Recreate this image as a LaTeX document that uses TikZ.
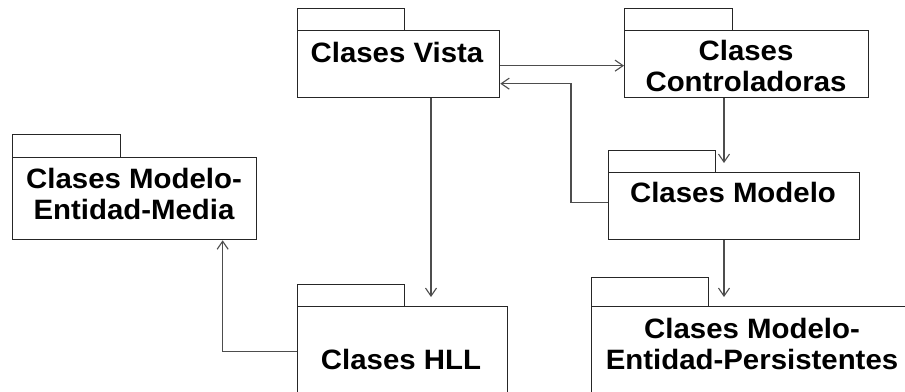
\documentclass[tikz,border=0pt]{standalone}
\usepackage{fontspec}
\setmainfont[FakeStretch=1.05]{Liberation Sans}
\usetikzlibrary{arrows.meta,calc}
\definecolor{boxcol}{HTML}{262626}
\definecolor{conncol}{HTML}{4D4D4D}
\begin{document}
\begin{tikzpicture}[x=1pt,y=-1pt,
  pkg/.style={draw=boxcol, line width=1.3pt, rectangle, inner sep=0pt, anchor=north west},
  lbl/.style={font=\fontsize{28}{31}\selectfont\bfseries, align=center, inner sep=0pt, anchor=north, text=black},
  conn/.style={draw=conncol, line width=1.1pt, -{Straight Barb[length=8pt,width=11pt]}}]
\useasboundingbox (0,0) rectangle (905,391);
\clip (0,0) rectangle (905,391);
\fill[white] (0,0) rectangle (905,391);

% package bodies and their tabs
\node[pkg, minimum width=202, minimum height=67] (vista) at (297,30) {};
\node[pkg, minimum width=107, minimum height=22] (vista-tab) at (297,8) {};
\node[pkg, minimum width=244, minimum height=67] (ctrl) at (624,30) {};
\node[pkg, minimum width=108, minimum height=22] (ctrl-tab) at (624,8) {};
\node[pkg, minimum width=251, minimum height=67] (modelo) at (608,172) {};
\node[pkg, minimum width=107, minimum height=22] (modelo-tab) at (608,150) {};
\node[pkg, minimum width=244, minimum height=82] (media) at (12,157) {};
\node[pkg, minimum width=108, minimum height=23] (media-tab) at (12,134) {};
\node[pkg, minimum width=210, minimum height=100] (hll) at (297,306) {};
\node[pkg, minimum width=107, minimum height=22] (hll-tab) at (297,284) {};
\node[pkg, minimum width=330, minimum height=100] (persist) at (591,306) {};
\node[pkg, minimum width=117, minimum height=29] (persist-tab) at (591,277) {};

% package names
\node[lbl] (vista-t) at (397,42) {Clases Vista};
\node[lbl] (ctrl-t) at (746,40) {Clases\\Controladoras};
\node[lbl] (modelo-t) at (733,182) {Clases Modelo};
\node[lbl] (media-t) at (134,168) {Clases Modelo-\\Entidad-Media};
\node[lbl] (hll-t) at (401,349) {Clases HLL};
\node[lbl] (persist-t) at (752,318) {Clases Modelo-\\Entidad-Persistentes};

% dependency columns
\coordinate (colR) at (724,0);
\coordinate (colM) at (431,0);

% dependencies
\draw[conn] ([yshift=-1.5pt]vista.east) -- ([yshift=-1.5pt]ctrl.west);
\draw[conn] ([yshift=3.5pt]modelo.west) -- ++(-37,0) |- ([yshift=-19.5pt]vista.east);
\draw[conn] (ctrl.south -| colR) -- ($(modelo.north -| colR)+(0,-9)$);
\draw[conn] (modelo.south -| colR) -- ($(persist.north -| colR)+(0,-9)$);
\draw[conn] (vista.south -| colM) -- ($(hll.north -| colM)+(0,-9)$);
\draw[conn] ([yshift=5pt]hll.west) -| ($(media.south)+(88,0)$);
\end{tikzpicture}
\end{document}
